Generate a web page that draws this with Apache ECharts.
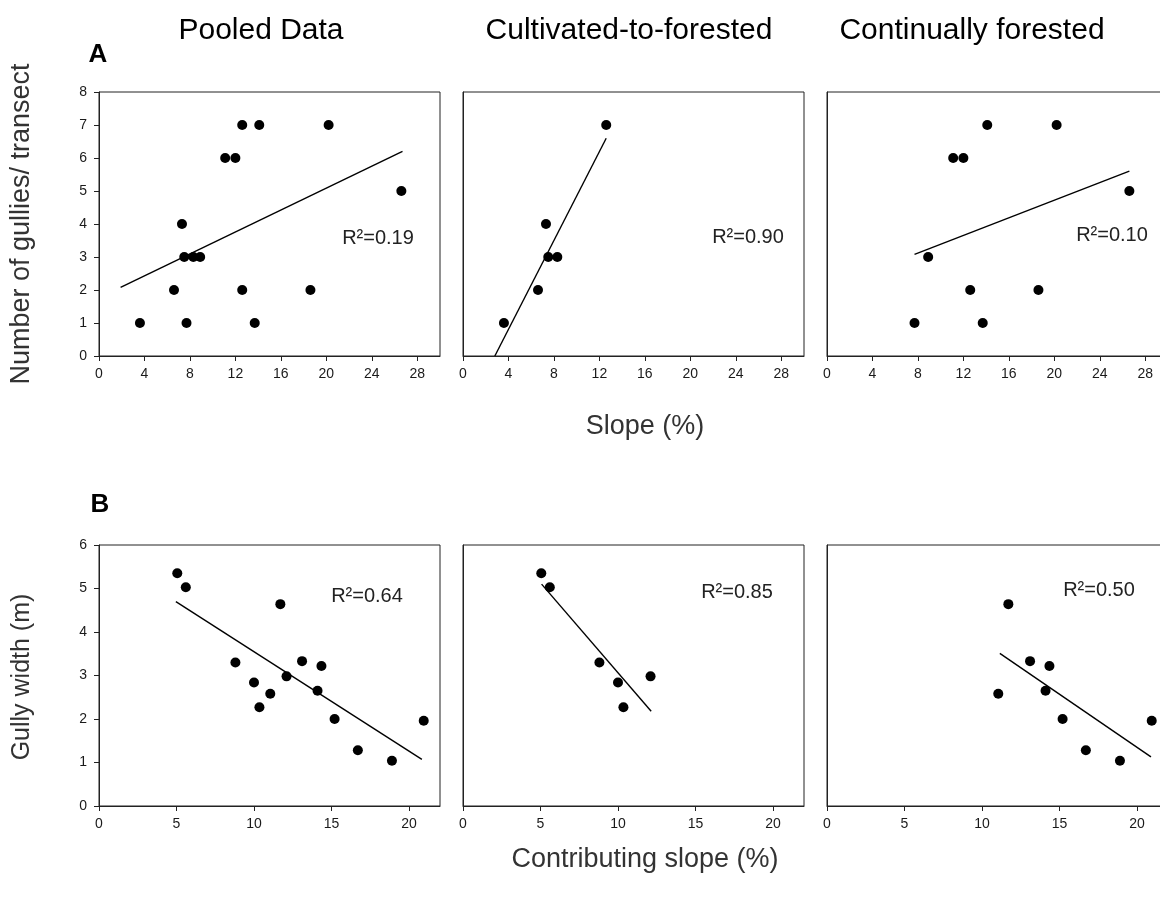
<!DOCTYPE html>
<html>
<head>
<meta charset="utf-8">
<title>Gullies vs slope</title>
<script src="https://cdn.jsdelivr.net/npm/echarts@6/dist/echarts.min.js"></script>
<style>
  html, body { margin: 0; padding: 0; background: #fff; }
  #chart { width: 1160px; height: 905px; }
</style>
</head>
<body>
<div id="chart"></div>
<script>
// Panel A: slope (%) vs number of gullies per transect
const cultivatedA = [[3.6, 1], [6.6, 2], [7.3, 4], [7.5, 3], [8.3, 3], [12.6, 7]];
const forestedA = [[7.7, 1], [8.9, 3], [11.1, 6], [12.0, 6], [12.6, 2], [13.7, 1], [14.1, 7], [18.6, 2], [20.2, 7], [26.6, 5]];
const pooledA = cultivatedA.concat(forestedA);
// fitted lines, end points
const pooledFitA = [[1.9, 2.08], [26.7, 6.2]];
const cultivatedFitA = [[2.8, 0], [12.6, 6.6]];
const forestedFitA = [[7.7, 3.08], [26.6, 5.6]];

// Panel B: contributing slope (%) vs gully width (m)
const cultivatedB = [[5.05, 5.35], [5.6, 5.03], [8.8, 3.3], [10.0, 2.84], [10.35, 2.27], [12.1, 2.98]];
const forestedB = [[11.05, 2.58], [11.7, 4.64], [13.1, 3.33], [14.1, 2.65], [14.35, 3.22], [15.2, 2.0], [16.7, 1.28], [18.9, 1.04], [20.95, 1.96]];
const pooledB = cultivatedB.concat(forestedB);
const pooledFitB = [[4.96, 4.7], [20.83, 1.07]];
const cultivatedFitB = [[5.07, 5.1], [12.14, 2.18]];
const forestedFitB = [[11.15, 3.51], [20.9, 1.13]];

const ticksXA = [0, 4, 8, 12, 16, 20, 24, 28];
const ticksXB = [0, 5, 10, 15, 20];
const panelTitles = ['Pooled Data', 'Cultivated-to-forested', 'Continually forested'];
const r2A = ['R\u00b2=0.19', 'R\u00b2=0.90', 'R\u00b2=0.10'];
const r2B = ['R\u00b2=0.64', 'R\u00b2=0.85', 'R\u00b2=0.50'];

const chart = echarts.init(document.getElementById('chart'));

const lefts = [99, 463, 827];
const FONT = 'Liberation Sans, Arial, sans-serif';
const ink = '#1a1a1a';

const grids = [];
const xAxes = [];
const yAxes = [];
const series = [];

function addPanel(idx, top, height, xMax, xTicks, yMax, points, fit) {
  grids.push({
    left: lefts[idx % 3], top: top, width: 341, height: height,
    show: true, borderColor: '#222', borderWidth: 1, backgroundColor: '#fff',
    containLabel: false, outerBoundsMode: 'none'
  });
  xAxes.push({
    type: 'value', gridIndex: idx, min: 0, max: xMax,
    axisLine: { lineStyle: { color: '#222' } },
    axisTick: { length: 5, lineStyle: { color: '#222' }, customValues: xTicks },
    axisLabel: { customValues: xTicks, margin: 11, color: ink, fontSize: 14, fontFamily: FONT },
    splitLine: { show: false }
  });
  const showY = idx % 3 === 0;
  yAxes.push({
    type: 'value', gridIndex: idx, min: 0, max: yMax, interval: 1,
    axisLine: { show: true, lineStyle: { color: '#222' } },
    axisTick: { show: showY, length: 5, lineStyle: { color: '#222' } },
    axisLabel: { show: showY, margin: 12, color: ink, fontSize: 14, fontFamily: FONT },
    splitLine: { show: false }
  });
  series.push({
    type: 'scatter', xAxisIndex: idx, yAxisIndex: idx, data: points,
    symbol: 'circle', symbolSize: 10, itemStyle: { color: '#000', opacity: 1 }, z: 3
  });
  series.push({
    type: 'line', xAxisIndex: idx, yAxisIndex: idx, data: fit,
    showSymbol: false, symbol: 'none', lineStyle: { color: '#000', width: 1.4 }, z: 2
  });
}

addPanel(0, 92, 264, 30, ticksXA, 8, pooledA, pooledFitA);
addPanel(1, 92, 264, 30, ticksXA, 8, cultivatedA, cultivatedFitA);
addPanel(2, 92, 264, 30, ticksXA, 8, forestedA, forestedFitA);
addPanel(3, 545, 261, 22, ticksXB, 6, pooledB, pooledFitB);
addPanel(4, 545, 261, 22, ticksXB, 6, cultivatedB, cultivatedFitB);
addPanel(5, 545, 261, 22, ticksXB, 6, forestedB, forestedFitB);

function txt(s, x, y, size, opts, color) {
  return Object.assign({
    type: 'text', x: x, y: y, z: 10,
    style: {
      text: s, fill: color || '#111', align: 'center', verticalAlign: 'middle',
      font: size + 'px ' + FONT
    }
  }, opts || {});
}

const graphics = [
  txt(panelTitles[0], 261, 31, 30, null, '#000'),
  txt(panelTitles[1], 629, 31, 30, null, '#000'),
  txt(panelTitles[2], 972, 31, 30, null, '#000'),
  { type: 'text', x: 98, y: 55, z: 10, style: { text: 'A', fill: '#000', align: 'center', verticalAlign: 'middle', font: 'bold 26px ' + FONT } },
  { type: 'text', x: 100, y: 505, z: 10, style: { text: 'B', fill: '#000', align: 'center', verticalAlign: 'middle', font: 'bold 26px ' + FONT } },
  txt('Number of gullies/ transect', 22, 224, 27, { rotation: Math.PI / 2 }, '#333'),
  txt('Gully width (m)', 22, 677, 25, { rotation: Math.PI / 2 }, '#333'),
  txt('Slope (%)', 645, 427, 27, null, '#333'),
  txt('Contributing slope (%)', 645, 860, 27, null, '#333'),
  txt(r2A[0], 378, 238, 20, null, '#222'),
  txt(r2A[1], 748, 237, 20, null, '#222'),
  txt(r2A[2], 1112, 235, 20, null, '#222'),
  txt(r2B[0], 367, 596, 20, null, '#222'),
  txt(r2B[1], 737, 592, 20, null, '#222'),
  txt(r2B[2], 1099, 590, 20, null, '#222')
];

chart.setOption({
  backgroundColor: '#fff',
  animation: false,
  grid: grids,
  xAxis: xAxes,
  yAxis: yAxes,
  series: series,
  graphic: graphics
});
</script>
</body>
</html>
